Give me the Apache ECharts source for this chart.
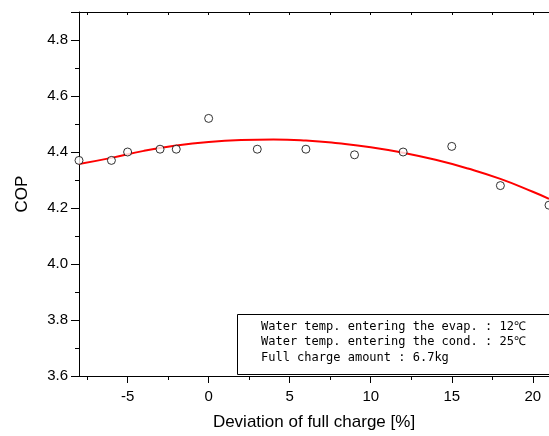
<!DOCTYPE html>
<html><head><meta charset="utf-8">
<script src="https://cdn.jsdelivr.net/npm/echarts@6/dist/echarts.min.js"></script>
<style>html,body{margin:0;padding:0;background:#fff}#c{width:549px;height:436px}</style>
</head><body><div id="c"></div>
<script>
// measured points
const deviation = [-8, -6, -5, -3, -2, 0, 3, 6, 9, 12, 15, 18, 21];
const cop = [4.37, 4.37, 4.40, 4.41, 4.41, 4.52, 4.41, 4.41, 4.39, 4.40, 4.42, 4.28, 4.21];
// fitted curve
const fitX = [-8, -6, -4, -2, 0, 2, 4, 6, 8, 10, 12, 14, 16, 18, 20, 21];
const fitY = [4.357, 4.379, 4.404, 4.423, 4.436, 4.443, 4.445, 4.441, 4.431, 4.417, 4.397, 4.372, 4.341, 4.304, 4.258, 4.233];
const xMajor = [-5, 0, 5, 10, 15, 20];
const xMinor = [-7.5, -2.5, 2.5, 7.5, 12.5, 17.5];
const noteLines = [
  'Water temp. entering the evap. : 12\u2103',
  'Water temp. entering the cond. : 25\u2103',
  'Full charge amount : 6.7kg'
];

const chart = echarts.init(document.getElementById('c'), null, {renderer: 'canvas'});
const font = 'Liberation Sans, Arial, sans-serif';
const lineStyle = {color: '#000', width: 1};
chart.setOption({
  animation: false,
  grid: {left: 79, top: 12, right: -4, bottom: 59},
  xAxis: [
    {type: 'value', min: -8, max: 21, position: 'bottom',
     name: 'Deviation of full charge [%]', nameLocation: 'middle', nameGap: 38,
     nameTextStyle: {fontFamily: font, fontSize: 17, color: '#000'},
     axisLine: {show: true, onZero: false, lineStyle},
     axisTick: {show: true, customValues: xMajor, length: 7, lineStyle},
     axisLabel: {customValues: xMajor, fontFamily: font, fontSize: 15, color: '#000', margin: 13},
     splitLine: {show: false}},
    {type: 'value', min: -8, max: 21, position: 'bottom', gridIndex: 0,
     axisLine: {show: false, onZero: false},
     axisTick: {show: true, customValues: xMinor, length: 4, lineStyle},
     axisLabel: {show: false}, splitLine: {show: false}},
    {type: 'value', min: -8, max: 21, position: 'top',
     axisLine: {show: true, onZero: false, lineStyle},
     axisTick: {show: true, inside: true, customValues: xMajor.concat(xMinor), length: 3, lineStyle},
     axisLabel: {show: false}, splitLine: {show: false}}
  ],
  yAxis: [
    {type: 'value', min: 3.6, max: 4.9, interval: 0.2,
     name: 'COP', nameLocation: 'middle', nameGap: 48, nameRotate: 90,
     nameTextStyle: {fontFamily: font, fontSize: 17, color: '#000'},
     axisLine: {show: true, onZero: false, lineStyle},
     axisTick: {show: true, length: 8, lineStyle},
     minorTick: {show: true, splitNumber: 2, length: 4, lineStyle},
     axisLabel: {showMaxLabel: false, fontFamily: font, fontSize: 15, color: '#000', margin: 11,
                 formatter: v => v.toFixed(1)},
     splitLine: {show: false}}
  ],
  series: [
    {type: 'line', data: fitX.map((x, i) => [x, fitY[i]]), smooth: true, showSymbol: false,
     lineStyle: {color: '#ff0000', width: 2}, z: 2},
    {type: 'scatter', data: deviation.map((x, i) => [x, cop[i]]), symbol: 'circle', symbolSize: 8,
     itemStyle: {color: '#fff', borderColor: '#000', borderWidth: 1}, z: 3}
  ],
  graphic: [
    {type: 'rect', shape: {x: 237.5, y: 314.5, width: 320, height: 60},
     style: {fill: '#fff', stroke: '#000', lineWidth: 1}, z: 10},
    {type: 'text', left: 261, top: 319, z: 11,
     style: {text: noteLines.join('\n'), fontFamily: 'DejaVu Sans Mono, Liberation Mono, monospace',
             fontSize: 12, lineHeight: 15.5, fill: '#000'}}
  ]
});
</script></body></html>
